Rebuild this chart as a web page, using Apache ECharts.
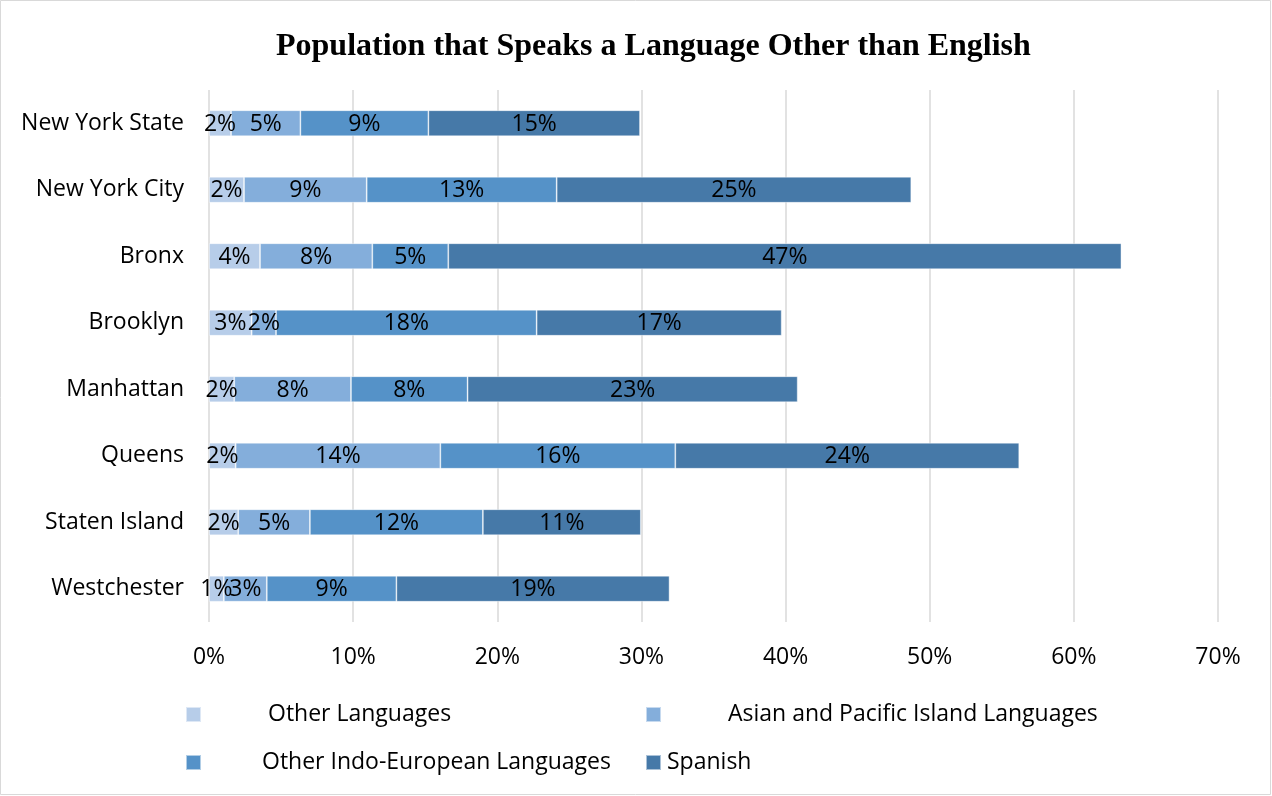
<!DOCTYPE html>
<html>
<head>
<meta charset="utf-8">
<script src="https://cdn.jsdelivr.net/npm/echarts@6/dist/echarts.min.js"></script>
<style>
html,body{margin:0;padding:0;background:#fff;}
#chart{width:1272px;height:796px;}
</style>
</head>
<body>
<div id="chart"></div>
<script>
const categories = ['New York State','New York City','Bronx','Brooklyn','Manhattan','Queens','Staten Island','Westchester'];
const seriesNames = ['Other Languages','Asian and Pacific Island Languages','Other Indo-European Languages','Spanish'];
const otherLanguages = [1.53, 2.43, 3.54, 2.96, 1.75, 1.85, 2.03, 1.03];
const asianPacific   = [4.81, 8.51, 7.79, 1.69, 8.10, 14.2, 4.97, 2.98];
const indoEuropean   = [8.88, 13.18, 5.27, 18.08, 8.09, 16.3, 12.0, 8.99];
const spanish        = [14.68, 24.6, 46.7, 17.0, 22.9, 23.86, 10.96, 18.95];
const xTicks = [0, 10, 20, 30, 40, 50, 60, 70];
const colors = ['#b7cde9', '#84aedb', '#5592c8', '#4679a8'];

const FONT = 'Open Sans';
const FS = 23;
const values = [otherLanguages, asianPacific, indoEuropean, spanish];

const series = seriesNames.map((name, i) => ({
  name: name,
  type: 'bar',
  stack: 'total',
  barWidth: 26,
  data: values[i],
  itemStyle: { color: colors[i], borderColor: 'rgba(255,255,255,0.55)', borderWidth: 0.8 },
  label: {
    show: true,
    position: 'inside',
    color: '#000',
    fontFamily: FONT,
    fontSize: FS,
    offset: [0, 1],
    formatter: p => Math.round(p.value) + '%'
  },
  emphasis: { disabled: true }
}));

// legend layout: [left, top, text gap]
const legendPos = [
  [185, 703, 62],
  [645, 703, 62],
  [185, 751, 56],
  [645, 751, 1]
];
const legends = seriesNames.map((name, i) => ({
  data: [name],
  left: legendPos[i][0],
  top: legendPos[i][1],
  padding: 0,
  itemWidth: 15,
  itemHeight: 15,
  icon: 'rect',
  selectedMode: false,
  textStyle: {
    fontFamily: FONT,
    fontSize: FS,
    color: '#000',
    padding: [0, 0, 0, legendPos[i][2]]
  }
}));

const chart = echarts.init(document.getElementById('chart'), null, { renderer: 'canvas' });
chart.setOption({
  animation: false,
  backgroundColor: '#fff',
  title: {
    text: 'Population that Speaks a Language Other than English',
    left: 276,
    top: 31,
    padding: 0,
    textStyle: { fontFamily: 'Liberation Serif', fontWeight: 'bold', fontSize: 32, color: '#000' }
  },
  graphic: [{
    type: 'rect',
    shape: { x: 0.5, y: 0.5, width: 1270, height: 794 },
    style: { fill: 'none', stroke: '#d9d9d9', lineWidth: 1 },
    silent: true
  }],
  legend: legends,
  grid: { left: 209, right: 54, top: 90, bottom: 174, containLabel: false },
  xAxis: {
    type: 'value',
    min: xTicks[0],
    max: xTicks[xTicks.length - 1],
    interval: 10,
    axisLine: { show: false },
    axisTick: { show: false },
    splitLine: { show: true, lineStyle: { color: '#d9d9d9', width: 1.5 } },
    axisLabel: { fontFamily: FONT, fontSize: FS, color: '#000', margin: 24, formatter: '{value}%' }
  },
  yAxis: {
    type: 'category',
    inverse: true,
    data: categories,
    axisLine: { show: false },
    axisTick: { show: false },
    axisLabel: { fontFamily: FONT, fontSize: FS, color: '#000', margin: 25 }
  },
  series: series
});
</script>
</body>
</html>
